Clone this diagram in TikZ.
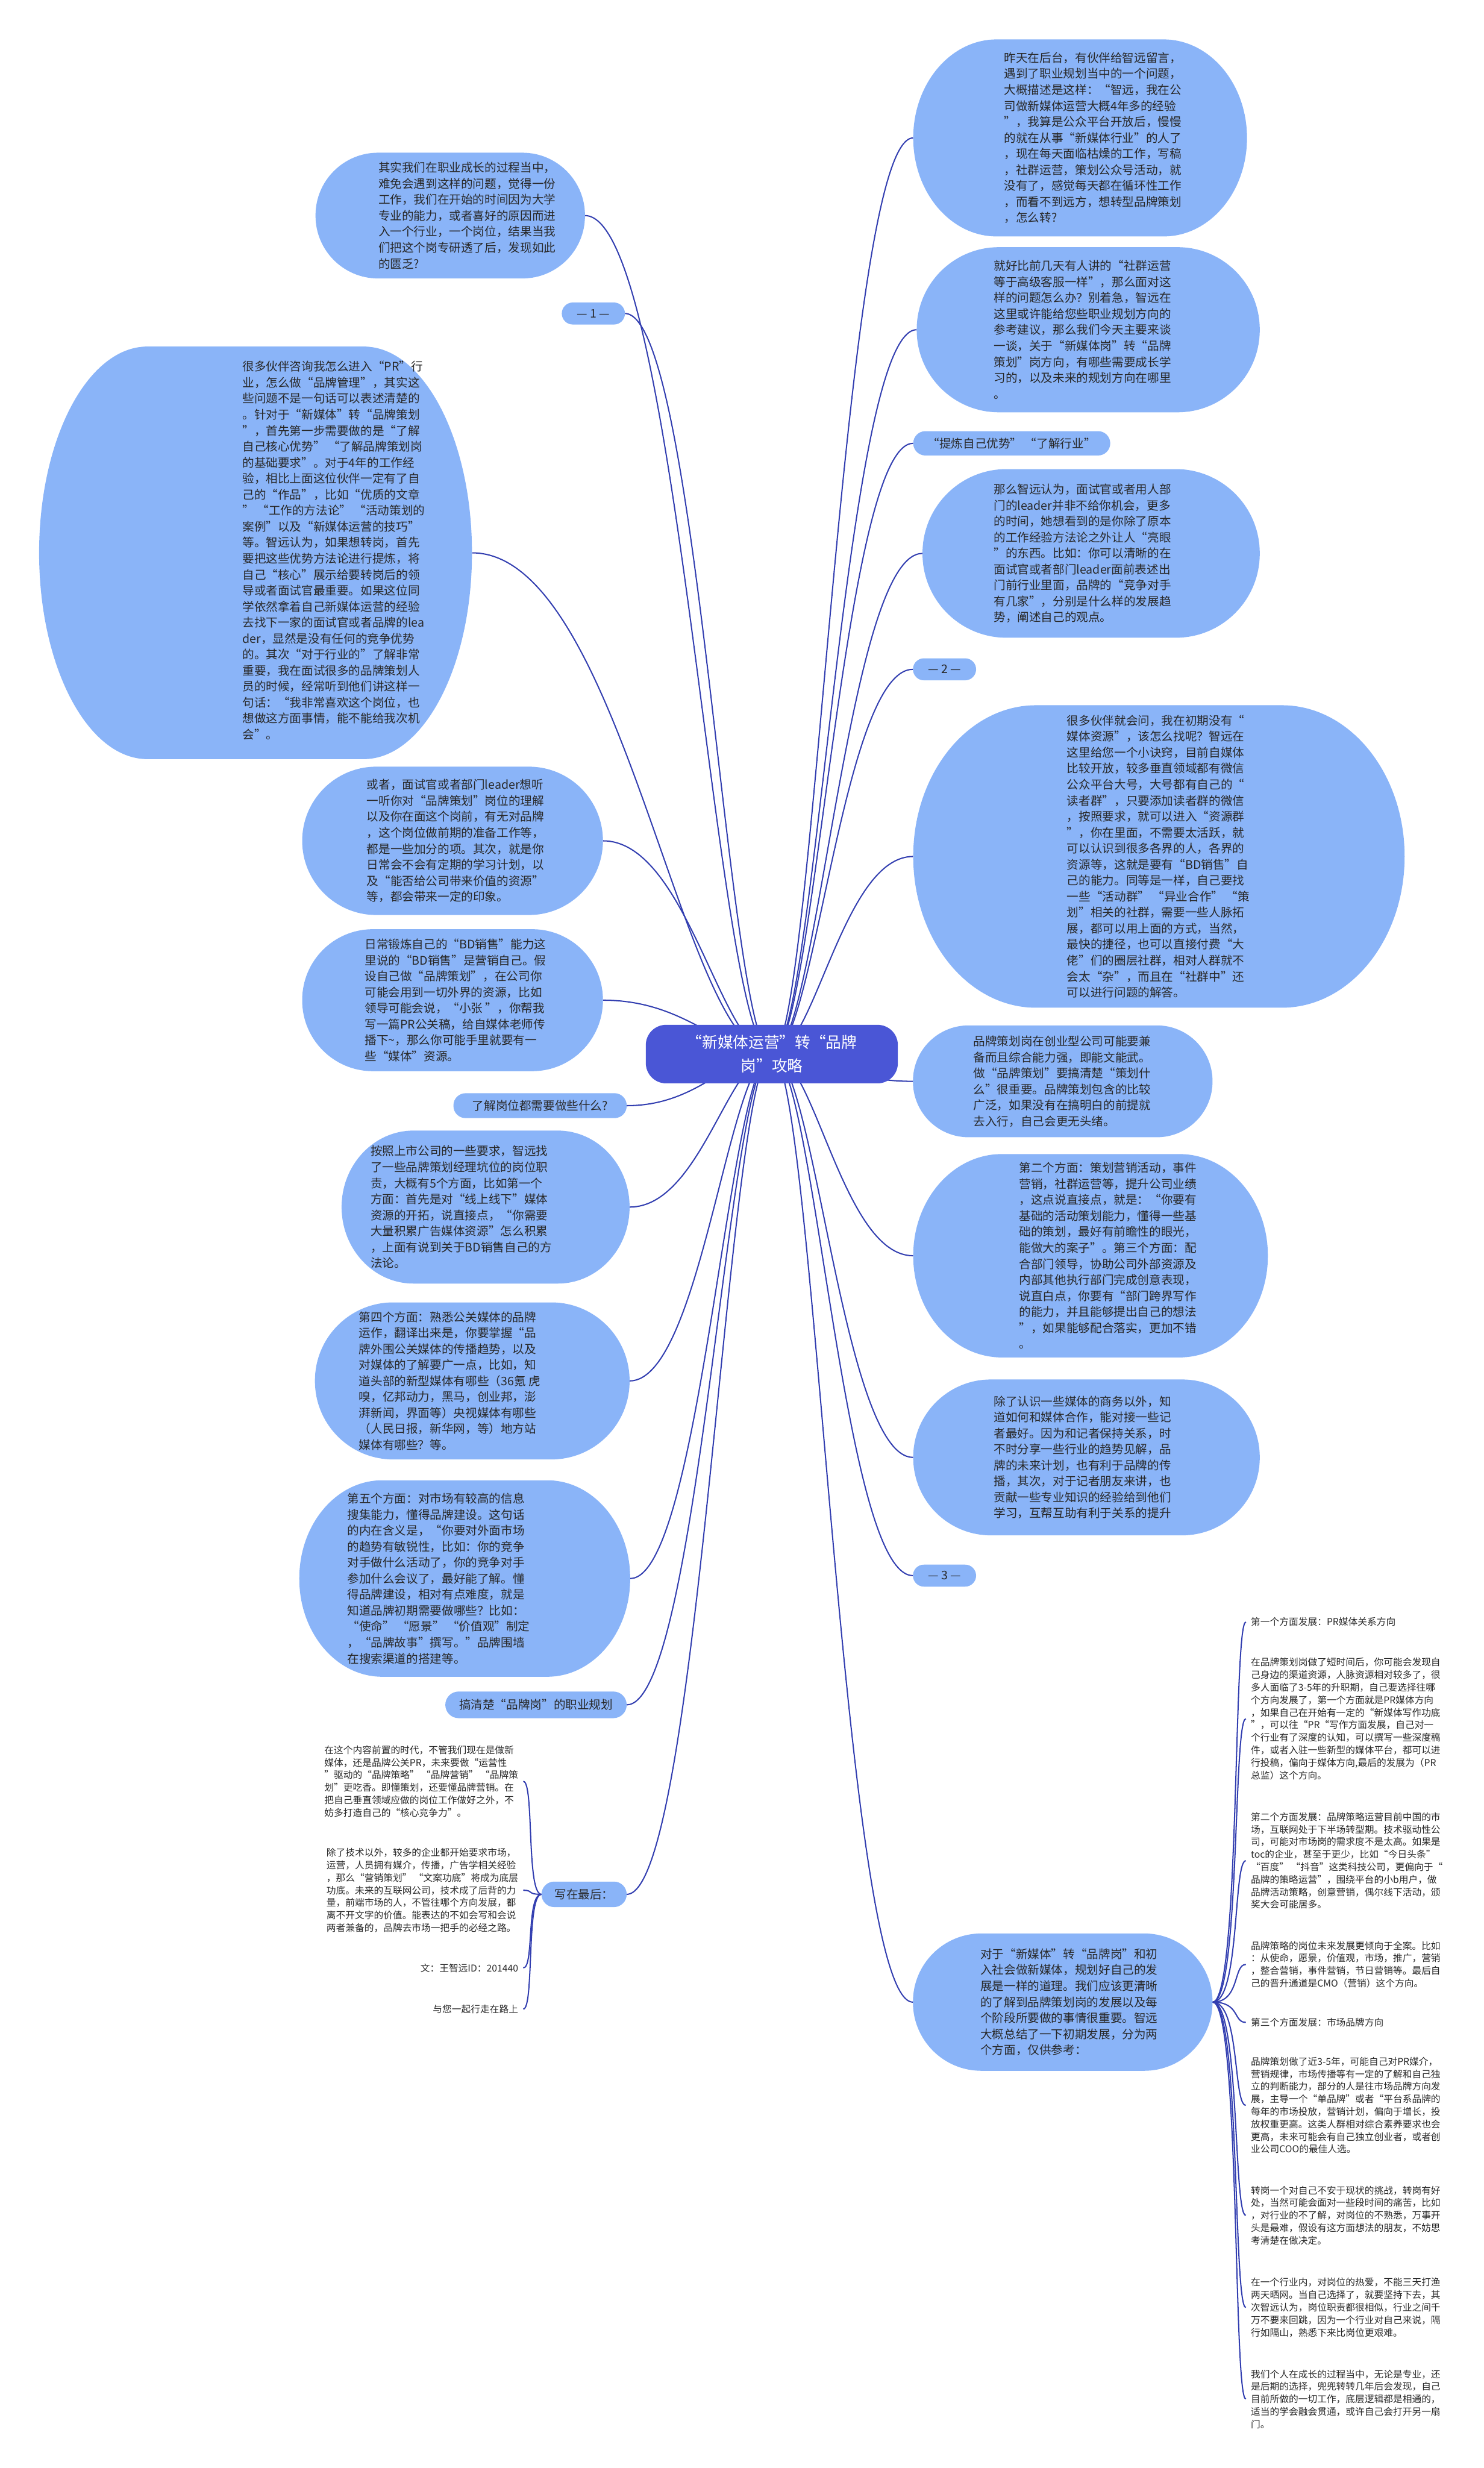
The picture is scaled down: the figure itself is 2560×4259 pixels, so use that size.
\documentclass[tikz,border=0pt]{standalone}
\usepackage{fontspec}
\setmainfont{Noto Sans CJK SC}
\usetikzlibrary{calc}
\definecolor{bubcol}{RGB}{138,180,248}
\definecolor{rootcol}{RGB}{74,86,214}
\definecolor{linecol}{RGB}{50,62,176}
\definecolor{txtcol}{RGB}{40,40,40}
\pgfdeclarelayer{bglayer}
\pgfsetlayers{bglayer,main}
\tikzset{
  hitbox/.style={rectangle,inner sep=0pt,outer sep=0pt},
  bubtxt/.style={align=left,inner sep=0pt,text=txtcol,font=\fontsize{5.8pt}{7.85pt}\selectfont},
  pilltxt/.style={inner sep=0pt,text=txtcol,font=\fontsize{5.8pt}{7.85pt}\selectfont},
  smalltxt/.style={align=left,inner ysep=0pt,inner xsep=2.3pt,text=txtcol,font=\fontsize{4.65pt}{6.15pt}\selectfont},
  roottxt/.style={align=center,inner sep=0pt,text=white,font=\fontsize{7.6pt}{11.6pt}\selectfont},
  conn/.style={draw=linecol,line width=0.6pt},
}
% #1 name, #2 cx, #3 cy, #4 w, #5 h, #6 rx, #7 ry, #8 colour
\newcommand\bubble[8]{%
  \pgfmathsetmacro\bxa{#2-#4/2}%
  \pgfmathsetmacro\bxb{#2+#4/2}%
  \pgfmathsetmacro\bya{#3-#5/2}%
  \pgfmathsetmacro\byb{#3+#5/2}%
  \pgfmathsetmacro\bkx{0.4477*#6}%
  \pgfmathsetmacro\bky{0.4477*#7}%
  \fill[#8] (\bxa+#6,\bya) -- (\bxb-#6,\bya)
    .. controls (\bxb-\bkx,\bya) and (\bxb,\bya+\bky) .. (\bxb,\bya+#7)
    -- (\bxb,\byb-#7)
    .. controls (\bxb,\byb-\bky) and (\bxb-\bkx,\byb) .. (\bxb-#6,\byb)
    -- (\bxa+#6,\byb)
    .. controls (\bxa+\bkx,\byb) and (\bxa,\byb-\bky) .. (\bxa,\byb-#7)
    -- (\bxa,\bya+#7)
    .. controls (\bxa,\bya+\bky) and (\bxa+\bkx,\bya) .. cycle;
  \pgfmathsetmacro\bwcm{#4/100}%
  \pgfmathsetmacro\bhcm{#5/100}%
  \node[hitbox,minimum width=\bwcm cm,minimum height=\bhcm cm] (#1) at (#2,#3) {};
}
\newcommand\linkR[1]{\draw[conn] let \p1=(root.center), \p2=(#1.west) in
  (\p1) .. controls ({\x1+0.3*(\x2-\x1)},\y1) and ({\x1+0.5*(\x2-\x1)},\y2) .. (\p2);}
\newcommand\linkL[1]{\draw[conn] let \p1=(root.center), \p2=(#1.east) in
  (\p1) .. controls ({\x1+0.3*(\x2-\x1)},\y1) and ({\x1+0.5*(\x2-\x1)},\y2) .. (\p2);}
\begin{document}
\begin{tikzpicture}[x=0.01cm,y=-0.01cm]
\useasboundingbox (0,0) rectangle (2560,4259);

% ---------- root ----------
\bubble{root}{1332}{1819}{435}{101}{35}{35}{rootcol}
\node[roottxt] (roott) at (1332,1819) {“新媒体运营”转“品牌\\岗”攻略};

% ---------- left side ----------
\bubble{L1}{777}{372}{465}{217}{108}{108}{bubcol}
\node[bubtxt] (L1t) at (806,372) {其实我们在职业成长的过程当中，\\难免会遇到这样的问题，觉得一份\\工作，我们在开始的时间因为大学\\专业的能力，或者喜好的原因而进\\入一个行业，一个岗位，结果当我\\们把这个岗专研透了后，发现如此\\的匮乏?};

\bubble{P1}{1024}{541}{109}{38}{19}{19}{bubcol}
\node[pilltxt] (P1t) at (1024,541) {— 1 —};

\bubble{L3}{441}{954}{747}{712}{187}{356}{bubcol}
\node[bubtxt] (L3t) at (576,950) {很多伙伴咨询我怎么进入“PR”行\\业，怎么做“品牌管理”，其实这\\些问题不是一句话可以表述清楚的\\。针对于“新媒体”转“品牌策划\\”，首先第一步需要做的是“了解\\自己核心优势” “了解品牌策划岗\\的基础要求”。对于4年的工作经\\验，相比上面这位伙伴一定有了自\\己的“作品”，比如“优质的文章\\” “工作的方法论” “活动策划的\\案例”以及“新媒体运营的技巧”\\等。智远认为，如果想转岗，首先\\要把这些优势方法论进行提炼，将\\自己“核心”展示给要转岗后的领\\导或者面试官最重要。如果这位同\\学依然拿着自己新媒体运营的经验\\去找下一家的面试官或者品牌的lea\\der，显然是没有任何的竞争优势\\的。其次“对于行业的”了解非常\\重要，我在面试很多的品牌策划人\\员的时候，经常听到他们讲这样一\\句话：“我非常喜欢这个岗位，也\\想做这方面事情，能不能给我次机\\会”。};

\bubble{L4}{781}{1451}{519}{256}{128}{128}{bubcol}
\node[bubtxt] (L4t) at (786,1451) {或者，面试官或者部门leader想听\\一听你对“品牌策划”岗位的理解\\以及你在面这个岗前，有无对品牌\\，这个岗位做前期的准备工作等，\\都是一些加分的项。其次，就是你\\日常会不会有定期的学习计划，以\\及“能否给公司带来价值的资源”\\等，都会带来一定的印象。};

\bubble{L5}{781}{1726}{519}{245}{122}{122}{bubcol}
\node[bubtxt] (L5t) at (786,1726) {日常锻炼自己的“BD销售”能力这\\里说的“BD销售”是营销自己。假\\设自己做“品牌策划”，在公司你\\可能会用到一切外界的资源，比如\\领导可能会说，“小张 ”，你帮我\\写一篇PR公关稿，给自媒体老师传\\播下\textasciitilde，那么你可能手里就要有一\\些“媒体”资源。};

\bubble{P6}{932}{1908}{299}{43}{21}{21}{bubcol}
\node[pilltxt] (P6t) at (932,1908) {了解岗位都需要做些什么?};

\bubble{L7}{838}{2083}{497}{264}{124}{132}{bubcol}
\node[bubtxt] (L7t) at (796,2083) {按照上市公司的一些要求，智远找\\了一些品牌策划经理坑位的岗位职\\责，大概有5个方面，比如第一个\\方面：首先是对“线上线下”媒体\\资源的开拓，说直接点，“你需要\\大量积累广告媒体资源”怎么积累\\，上面有说到关于BD销售自己的方\\法论。};

\bubble{L8}{815}{2383}{543}{271}{135}{135}{bubcol}
\node[bubtxt] (L8t) at (776,2383) {第四个方面：熟悉公关媒体的品牌\\运作，翻译出来是，你要掌握“品\\牌外围公关媒体的传播趋势，以及\\对媒体的了解要广一点，比如，知\\道头部的新型媒体有哪些（36氪 虎\\嗅，亿邦动力，黑马，创业邦，澎\\湃新闻，界面等）央视媒体有哪些\\（人民日报，新华网，等）地方站\\媒体有哪些？等。};

\bubble{L9}{802}{2724}{571}{339}{143}{169}{bubcol}
\node[bubtxt] (L9t) at (757,2724) {第五个方面：对市场有较高的信息\\搜集能力，懂得品牌建设。这句话\\的内在含义是，“你要对外面市场\\的趋势有敏锐性，比如：你的竞争\\对手做什么活动了，你的竞争对手\\参加什么会议了，最好能了解。懂\\得品牌建设，相对有点难度，就是\\知道品牌初期需要做哪些？比如：\\“使命” “愿景” “价值观”制定\\，“品牌故事”撰写。”品牌围墙\\在搜索渠道的搭建等。};

\bubble{P10}{925}{2942}{313}{46}{23}{23}{bubcol}
\node[pilltxt] (P10t) at (925,2942) {搞清楚“品牌岗”的职业规划};

\bubble{P11}{1008}{3269}{147}{44}{22}{22}{bubcol}
\node[pilltxt] (P11t) at (1008,3269) {写在最后：};

\node[smalltxt,anchor=east] (W1) at (903,3074) {在这个内容前置的时代，不管我们现在是做新\\媒体，还是品牌公关PR，未来要做“运营性\\”驱动的“品牌策略” “品牌营销” “品牌策\\划”更吃香。即懂策划，还要懂品牌营销。在\\把自己垂直领域应做的岗位工作做好之外，不\\妨多打造自己的“核心竞争力”。};
\node[smalltxt,anchor=east] (W2) at (903,3262) {除了技术以外，较多的企业都开始要求市场，\\运营，人员拥有媒介，传播，广告学相关经验\\，那么“营销策划” “文案功底”将成为底层\\功底。未来的互联网公司，技术成了后背的力\\量，前端市场的人，不管往哪个方向发展，都\\离不开文字的价值。能表达的不如会写和会说\\两者兼备的，品牌去市场一把手的必经之路。};
\node[smalltxt,anchor=east] (W3) at (903,3396) {文：王智远ID：201440};
\node[smalltxt,anchor=east] (W4) at (903,3467) {与您一起行走在路上};

% ---------- right side ----------
\bubble{R1}{1864}{238}{576}{340}{144}{170}{bubcol}
\node[bubtxt] (R1t) at (1886,238) {昨天在后台，有伙伴给智远留言，\\遇到了职业规划当中的一个问题，\\大概描述是这样：“智远，我在公\\司做新媒体运营大概4年多的经验\\”，我算是公众平台开放后，慢慢\\的就在从事“新媒体行业”的人了\\，现在每天面临枯燥的工作，写稿\\，社群运营，策划公众号活动，就\\没有了，感觉每天都在循环性工作\\，而看不到远方，想转型品牌策划\\，怎么转?};

\bubble{R2}{1878}{569}{592}{285}{142}{142}{bubcol}
\node[bubtxt] (R2t) at (1868,569) {就好比前几天有人讲的“社群运营\\等于高级客服一样”，那么面对这\\样的问题怎么办？别着急，智远在\\这里或许能给您些职业规划方向的\\参考建议，那么我们今天主要来谈\\一谈，关于“新媒体岗”转“品牌\\策划”岗方向，有哪些需要成长学\\习的，以及未来的规划方向在哪里\\。};

\bubble{P3}{1746}{765}{340}{42}{21}{21}{bubcol}
\node[pilltxt] (P3t) at (1746,765) {“提炼自己优势” “了解行业”};

\bubble{R4}{1883}{955}{582}{291}{145}{145}{bubcol}
\node[bubtxt] (R4t) at (1868,955) {那么智远认为，面试官或者用人部\\门的leader并非不给你机会，更多\\的时间，她想看到的是你除了原本\\的工作经验方法论之外让人“亮眼\\”的东西。比如：你可以清晰的在\\面试官或者部门leader面前表述出\\门前行业里面，品牌的“竞争对手\\有几家”，分别是什么样的发展趋\\势，阐述自己的观点。};

\bubble{P5}{1630}{1155}{109}{38}{19}{19}{bubcol}
\node[pilltxt] (P5t) at (1630,1155) {— 2 —};

\bubble{R6}{2000}{1478}{848}{522}{212}{261}{bubcol}
\node[bubtxt] (R6t) at (1999,1478) {很多伙伴就会问，我在初期没有“\\媒体资源”，该怎么找呢？智远在\\这里给您一个小诀窍，目前自媒体\\比较开放，较多垂直领域都有微信\\公众平台大号，大号都有自己的“\\读者群”，只要添加读者群的微信\\，按照要求，就可以进入“资源群\\”，你在里面，不需要太活跃，就\\可以认识到很多各界的人，各界的\\资源等，这就是要有“BD销售”自\\己的能力。同等是一样，自己要找\\一些“活动群” “异业合作” “策\\划”相关的社群，需要一些人脉拓\\展，都可以用上面的方式，当然，\\最快的捷径，也可以直接付费“大\\佬”们的圈层社群，相对人群就不\\会太“杂”，而且在“社群中”还\\可以进行问题的解答。};

\bubble{R7}{1834}{1866}{517}{193}{96}{96}{bubcol}
\node[bubtxt] (R7t) at (1833,1866) {品牌策划岗在创业型公司可能要兼\\备而且综合能力强，即能文能武。\\做“品牌策划”要搞清楚“策划什\\么”很重要。品牌策划包含的比较\\广泛，如果没有在搞明白的前提就\\去入行，自己会更无头绪。};

\bubble{R8}{1882}{2167}{612}{351}{153}{175}{bubcol}
\node[bubtxt] (R8t) at (1912,2167) {第二个方面：策划营销活动，事件\\营销，社群运营等，提升公司业绩\\，这点说直接点，就是：“你要有\\基础的活动策划能力，懂得一些基\\础的策划，最好有前瞻性的眼光，\\能做大的案子”。第三个方面：配\\合部门领导，协助公司外部资源及\\内部其他执行部门完成创意表现，\\说直白点，你要有“部门跨界写作\\的能力，并且能够提出自己的想法\\”，如果能够配合落实，更加不错\\。};

\bubble{R9}{1875}{2515}{598}{269}{134}{134}{bubcol}
\node[bubtxt] (R9t) at (1868,2515) {除了认识一些媒体的商务以外，知\\道如何和媒体合作，能对接一些记\\者最好。因为和记者保持关系，时\\不时分享一些行业的趋势见解，品\\牌的未来计划，也有利于品牌的传\\播，其次，对于记者朋友来讲，也\\贡献一些专业知识的经验给到他们\\学习，互帮互助有利于关系的提升};

\bubble{P10r}{1630}{2719}{109}{38}{19}{19}{bubcol}
\node[pilltxt] (P10rt) at (1630,2719) {— 3 —};

\bubble{R11}{1834}{3455}{517}{237}{118}{118}{bubcol}
\node[bubtxt] (R11t) at (1845,3455) {对于“新媒体”转“品牌岗”和初\\入社会做新媒体，规划好自己的发\\展是一样的道理。我们应该更清晰\\的了解到品牌策划岗的发展以及每\\个阶段所要做的事情很重要。智远\\大概总结了一下初期发展，分为两\\个方面，仅供参考：};

\node[smalltxt,anchor=west] (C1) at (2150,2799) {第一个方面发展：PR媒体关系方向};
\node[smalltxt,anchor=west] (C2) at (2150,2966) {在品牌策划岗做了短时间后，你可能会发现自\\己身边的渠道资源，人脉资源相对较多了，很\\多人面临了3-5年的升职期，自己要选择往哪\\个方向发展了，第一个方面就是PR媒体方向\\，如果自己在开始有一定的“新媒体写作功底\\”，可以往“PR“写作方面发展，自己对一\\个行业有了深度的认知，可以撰写一些深度稿\\件，或者入驻一些新型的媒体平台，都可以进\\行投稿，偏向于媒体方向,最后的发展为（PR\\总监）这个方向。};
\node[smalltxt,anchor=west] (C3) at (2150,3211) {第二个方面发展：品牌策略运营目前中国的市\\场，互联网处于下半场转型期。技术驱动性公\\司，可能对市场岗的需求度不是太高。如果是\\toc的企业，甚至于更少，比如“今日头条”\\“百度” “抖音”这类科技公司，更偏向于“\\品牌的策略运营”，围绕平台的小b用户，做\\品牌活动策略，创意营销，偶尔线下活动，颁\\奖大会可能居多。};
\node[smalltxt,anchor=west] (C4) at (2150,3390) {品牌策略的岗位未来发展更倾向于全案。比如\\：从使命，愿景，价值观，市场，推广，营销\\，整合营销，事件营销，节日营销等。最后自\\己的晋升通道是CMO（营销）这个方向。};
\node[smalltxt,anchor=west] (C5) at (2150,3490) {第三个方面发展：市场品牌方向};
\node[smalltxt,anchor=west] (C6) at (2150,3633) {品牌策划做了近3-5年，可能自己对PR媒介，\\营销规律，市场传播等有一定的了解和自己独\\立的判断能力，部分的人是往市场品牌方向发\\展，主导一个“单品牌”或者“平台系品牌的\\每年的市场投放，营销计划，偏向于增长，投\\放权重更高。这类人群相对综合素养要求也会\\更高，未来可能会有自己独立创业者，或者创\\业公司COO的最佳人选。};
\node[smalltxt,anchor=west] (C7) at (2150,3823) {转岗一个对自己不安于现状的挑战，转岗有好\\处，当然可能会面对一些段时间的痛苦，比如\\，对行业的不了解，对岗位的不熟悉，万事开\\头是最难，假设有这方面想法的朋友，不妨思\\考清楚在做决定。};
\node[smalltxt,anchor=west] (C8) at (2150,3982) {在一个行业内，对岗位的热爱，不能三天打渔\\两天晒网。当自己选择了，就要坚持下去，其\\次智远认为，岗位职责都很相似，行业之间千\\万不要来回跳，因为一个行业对自己来说，隔\\行如隔山，熟悉下来比岗位更艰难。};
\node[smalltxt,anchor=west] (C9) at (2150,4140) {我们个人在成长的过程当中，无论是专业，还\\是后期的选择，兜兜转转几年后会发现，自己\\目前所做的一切工作，底层逻辑都是相通的，\\适当的学会融会贯通，或许自己会打开另一扇\\门。};

% ---------- connectors ----------
\begin{pgfonlayer}{bglayer}
\linkL{L1}\linkL{P1}\linkL{L3}\linkL{L4}\linkL{L5}\linkL{P6}
\linkL{L7}\linkL{L8}\linkL{L9}\linkL{P10}\linkL{P11}
\linkR{R1}\linkR{R2}\linkR{P3}\linkR{R4}\linkR{P5}\linkR{R6}
\linkR{R7}\linkR{R8}\linkR{R9}\linkR{P10r}\linkR{R11}
\foreach \w/\yy in {W1/3074,W2/3262,W3/3396,W4/3467}
  \draw[conn] (P11.west) .. controls (908,3269) and (922,\yy) .. (\w.east);
\foreach \c/\yy in {C1/2799,C2/2966,C3/3211,C4/3390,C5/3490,C6/3633,C7/3823,C8/3982,C9/4140}
  \draw[conn] (R11.east) .. controls (2140,3455) and (2128,\yy) .. (\c.west);
\end{pgfonlayer}
\end{tikzpicture}
\end{document}
